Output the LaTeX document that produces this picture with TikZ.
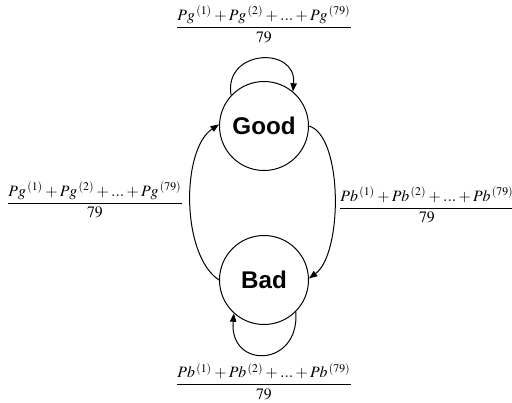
\documentclass[tikz,border=0pt]{standalone}
\usepackage{amsmath}
\usepackage{mathptmx}
\usepackage{fontspec}
\usepackage{tikz}
\usetikzlibrary{arrows.meta, positioning}
\newfontfamily\statefont{Liberation Sans}[BoldFont={Liberation Sans Bold}]
\tikzstyle{state}=[draw,circle,minimum size=53.4pt,inner sep=0pt,line width=0.6pt,font=\statefont\bfseries\fontsize{14.5}{17}\selectfont]
\tikzstyle{edge}=[line width=0.6pt,-{Triangle[length=5pt,width=3.8pt]}]
\tikzstyle{frac}=[inner sep=0.5pt,font=\fontsize{9.5}{11.5}\selectfont]
\newcommand{\avg}[1]{$\dfrac{#1^{\mkern2mu(1)}+#1^{\mkern2mu(2)}+...+#1^{\mkern2mu(79)}}{79}$}

\begin{document}
\begin{tikzpicture}[x=0.6pt,y=-0.6pt,node distance=92.4pt]
    \useasboundingbox (0,0) rectangle (512,403);
    \node[state] (good) at (264,126) {Good};
    \node[state, below of=good] (bad) {Bad};
    \node[frac, above of=good, node distance=61pt] (pgtop) {\avg{Pg}};
    \node[frac, below of=bad, node distance=61pt] (pbbot) {\avg{Pb}};
    \node[frac] at (95,200) (pgleft) {\avg{Pg}};
    \node[frac] at (427,205) (pbright) {\avg{Pb}};
    % self loops
    \draw[edge] (good.137) .. controls +(-8,-46) and +(4,-46) .. (good.50);
    \draw[edge] (bad.-45) .. controls +(4,56) and +(-5,56) .. (bad.-132);
    % transitions
    \draw[edge] (bad.west) .. controls +(-38,-25) and +(-38,25) .. (good.178);
    \draw[edge] (good.east) .. controls +(34,10) and +(34,-25) .. (bad.2);
\end{tikzpicture}
\end{document}
